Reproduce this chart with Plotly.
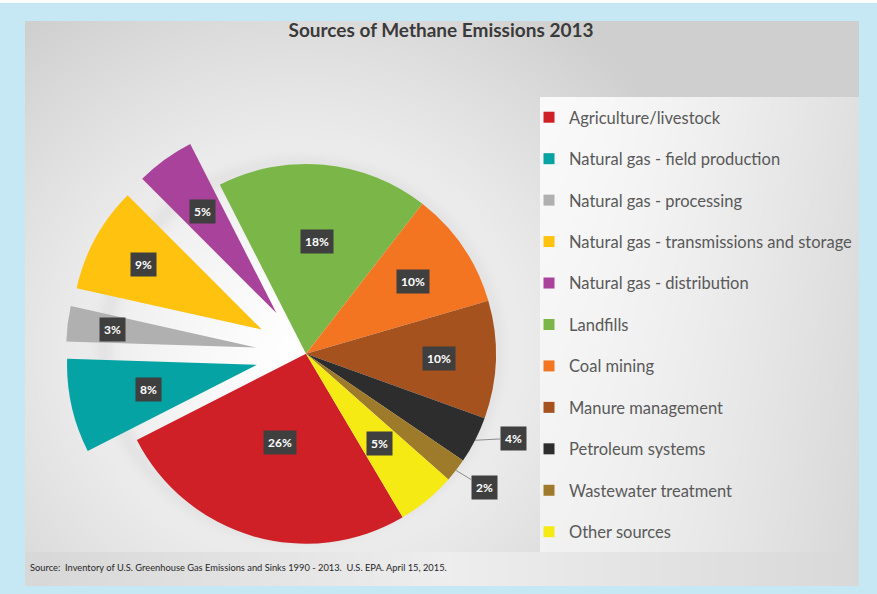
import math, zlib, struct, base64
import numpy as np
import plotly.graph_objects as go

# ---------------- data ----------------
labels = ["Agriculture/livestock", "Natural gas - field production", "Natural gas - processing",
          "Natural gas - transmissions and storage", "Natural gas - distribution", "Landfills",
          "Coal mining", "Manure management", "Petroleum systems", "Wastewater treatment",
          "Other sources"]
values = [26, 8, 3, 9, 5, 18, 10, 10, 4, 2, 5]
colors = ["#d02027", "#05a3a4", "#b0b0b0", "#ffc20e", "#a8429a", "#7ab648",
          "#f47521", "#a5521f", "#2d2d2d", "#9e7b2b", "#f5ea14"]
pulls = [0, 0.265, 0.265, 0.265, 0.265, 0, 0, 0, 0, 0, 0]
label_r = [0.485, 0.583, 0.759, 0.711, 0.66, 0.594, 0.68, 0.70, 1.0, 1.0, 0.61]
outside = [False, False, False, False, False, False, False, False, True, True, False]
outside_offsets = {8: (38, -2), 9: (28, 17)}

title = "Sources of Methane Emissions 2013"
source = "Source:  Inventory of U.S. Greenhouse Gas Emissions and Sinks 1990 - 2013.  U.S. EPA. April 15, 2015."

# ---------------- geometry / style ----------------
W, H = 877, 594
CX, CY, R = 306, 354, 190
ROT = 149.4
box = 2 * R * (1 + max(pulls))
dom_x = [(CX - box / 2) / W, (CX + box / 2) / W]
dom_y = [max(0, 1 - (CY + box / 2) / H), 1 - (CY - box / 2) / H]

# ---------------- background image ----------------
def png_uri(arr):
    h, w, _ = arr.shape
    raw = b"".join(b"\x00" + arr[y].tobytes() for y in range(h))
    def chunk(t, d):
        c = struct.pack(">I", len(d)) + t + d
        return c + struct.pack(">I", zlib.crc32(t + d) & 0xffffffff)
    png = (b"\x89PNG\r\n\x1a\n" + chunk(b"IHDR", struct.pack(">IIBBBBB", w, h, 8, 2, 0, 0, 0))
           + chunk(b"IDAT", zlib.compress(raw, 9)) + chunk(b"IEND", b""))
    return "data:image/png;base64," + base64.b64encode(png).decode()

img = np.zeros((H, W, 3), dtype=np.float64)
img[:, :] = (197, 232, 244)
img[0:3, :] = (255, 255, 255)
yy, xx = np.mgrid[0:H, 0:W]
d = np.sqrt((xx - 300.0) ** 2 + ((yy - 350.0) * 1.05) ** 2)
panel = 255 - 48 * np.clip(d / 440.0, 0, 1) ** 1.3
# soft shadow ring around the pie
ring = np.exp(-((d - (R + 6)) / 10.0) ** 2) * 10 * ((xx < 540))
panel = panel - ring
m = (xx >= 25) & (xx < 859) & (yy >= 21) & (yy < 552)
for c in range(3):
    img[..., c][m] = panel[m]
lm = (xx >= 540) & (xx < 859) & (yy >= 97) & (yy < 552)
leg = 250 - 26 * np.clip((xx - 540) / 319.0, 0, 1) ** 1.5 - 8 * np.clip((yy - 97) / 455.0, 0, 1)
for c in range(3):
    img[..., c][lm] = leg[lm]
fm = (xx >= 25) & (xx < 859) & (yy >= 552) & (yy < 586)
foot = 238 - 22 * np.clip(np.abs(xx - 450) / 420.0, 0, 1)
for c in range(3):
    img[..., c][fm] = foot[fm]
bg_uri = png_uri(np.clip(img, 0, 255).astype(np.uint8))

# ---------------- figure ----------------
fig = go.Figure()
fig.add_trace(go.Pie(
    labels=labels, values=values, sort=False, direction="clockwise", rotation=ROT,
    pull=pulls, marker=dict(colors=colors, line=dict(width=0)),
    textinfo="none", showlegend=False, domain=dict(x=dom_x, y=dom_y),
    hovertemplate="%{label}: %{value}%<extra></extra>",
))
for lab, col in zip(labels, colors):
    fig.add_trace(go.Scatter(x=[None], y=[None], mode="markers", name=lab, legendgroup=lab,
                             marker=dict(symbol="square", size=11, color=col)))

total = sum(values)
annotations = []
cum = 0
lab_font = dict(family="Lato", size=12, color="white")
for i, v in enumerate(values):
    mid = math.radians(ROT + (cum + v / 2) / total * 360)
    cum += v
    if outside[i]:
        px = CX + R * math.sin(mid)
        py = CY - R * math.cos(mid)
        ax, ay = outside_offsets[i]
        annotations.append(dict(x=px / W, y=1 - py / H, xref="paper", yref="paper",
                                text="<b>%d%%</b>" % v, showarrow=True, arrowhead=0,
                                arrowwidth=1, arrowcolor="#8c8c8c", ax=ax, ay=ay,
                                bgcolor="#3f3f3f", borderpad=4, font=lab_font))
    else:
        rr = (pulls[i] + label_r[i]) * R
        px = CX + rr * math.sin(mid)
        py = CY - rr * math.cos(mid)
        annotations.append(dict(x=px / W, y=1 - py / H, xref="paper", yref="paper",
                                xanchor="center", yanchor="middle",
                                text="<b>%d%%</b>" % v, showarrow=False,
                                bgcolor="#3f3f3f", borderpad=4, font=lab_font))

annotations.append(dict(x=28 / W, y=1 - 567 / H, xref="paper", yref="paper", xanchor="left",
                        yanchor="middle", text=source, showarrow=False,
                        font=dict(family="Lato", size=9.3, color="#262626")))

fig.update_layout(
    width=W, height=H, margin=dict(l=0, r=0, t=0, b=0),
    paper_bgcolor="rgb(197,232,244)", plot_bgcolor="rgba(0,0,0,0)",
    title=dict(text="<b>%s</b>" % title, x=441 / W, xanchor="center", y=1 - 30 / H,
               yanchor="middle", font=dict(family="Lato", size=19, color="#3a3a3a")),
    xaxis=dict(visible=False), yaxis=dict(visible=False),
    legend=dict(x=529 / W, xanchor="left", y=1 - 100 / H, yanchor="top",
                traceorder="grouped", tracegroupgap=17, bgcolor="rgba(0,0,0,0)",
                font=dict(family="Lato", size=16.5, color="#595959")),
    annotations=annotations,
    images=[dict(source=bg_uri, xref="paper", yref="paper", x=0, y=1, sizex=1, sizey=1,
                 xanchor="left", yanchor="top", sizing="stretch", layer="below")],
)

fig.write_html("out.html")
